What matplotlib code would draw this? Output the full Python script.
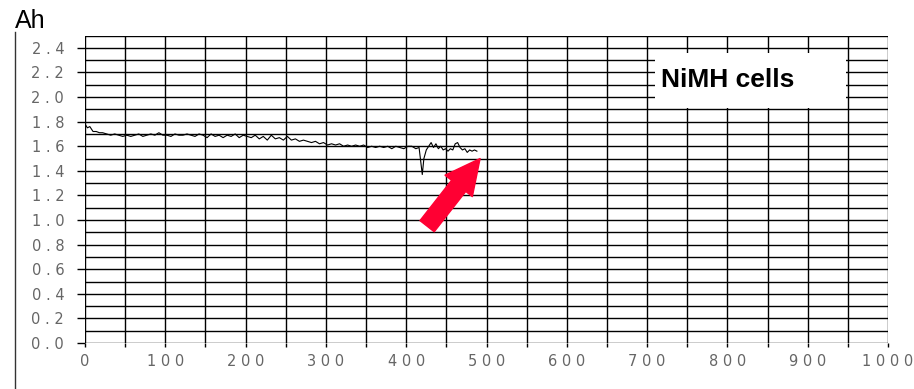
import numpy as np
import matplotlib
matplotlib.use("Agg")
import matplotlib.pyplot as plt
from matplotlib.patches import Rectangle
from matplotlib.lines import Line2D
from matplotlib.ticker import MultipleLocator

# capacity trace
cycles = [0, 3, 6, 10, 14, 18, 22, 27, 32, 37, 42, 47, 52, 57, 62, 67, 72, 77,
          82, 87, 92, 97, 102, 107, 112, 117, 122, 127, 132, 137, 142, 147, 152,
          157, 162, 167, 172, 177, 182, 187, 192, 197, 202, 207, 212, 217, 222,
          227, 232, 237, 242, 247, 252, 257, 262, 267, 272, 277, 282, 287, 292,
          297, 302, 307, 312, 317, 322, 327, 332, 337, 342, 347, 352, 357, 362,
          367, 372, 377, 382, 387, 392, 397, 402, 407, 412, 416, 418, 420, 422,
          425, 428, 431, 434, 437, 440, 443, 446, 449, 452, 455, 458, 461, 464,
          467, 470, 473, 476, 479, 482, 485, 488]
capacity = [1.78, 1.75, 1.76, 1.72, 1.72, 1.71, 1.71, 1.70, 1.69, 1.70, 1.69,
            1.68, 1.69, 1.68, 1.69, 1.70, 1.68, 1.69, 1.70, 1.69, 1.71, 1.69,
            1.69, 1.68, 1.70, 1.69, 1.69, 1.70, 1.69, 1.68, 1.70, 1.69, 1.67,
            1.70, 1.68, 1.69, 1.67, 1.69, 1.68, 1.70, 1.67, 1.69, 1.68, 1.67,
            1.69, 1.66, 1.68, 1.65, 1.69, 1.66, 1.67, 1.65, 1.68, 1.65, 1.66,
            1.64, 1.65, 1.64, 1.63, 1.64, 1.62, 1.63, 1.61, 1.62, 1.61, 1.62,
            1.60, 1.61, 1.60, 1.61, 1.60, 1.61, 1.59, 1.60, 1.59, 1.60, 1.59,
            1.60, 1.58, 1.60, 1.59, 1.58, 1.60, 1.60, 1.58, 1.59, 1.48, 1.37,
            1.50, 1.57, 1.60, 1.63, 1.59, 1.62, 1.58, 1.60, 1.57, 1.58, 1.56,
            1.58, 1.57, 1.62, 1.63, 1.59, 1.57, 1.58, 1.55, 1.57, 1.56, 1.57,
            1.56]

x_ticks = [0, 100, 200, 300, 400, 500, 600, 700, 800, 900, 1000]
x_tick_labels = ["0", "1 0 0", "2 0 0", "3 0 0", "4 0 0", "5 0 0", "6 0 0",
                 "7 0 0", "8 0 0", "9 0 0", "1 0 0 0"]
y_ticks = [0.0, 0.2, 0.4, 0.6, 0.8, 1.0, 1.2, 1.4, 1.6, 1.8, 2.0, 2.2, 2.4]
y_tick_labels = ["0 . 0", "0 . 2", "0 . 4", "0 . 6", "0 . 8", "1 . 0", "1 . 2",
                 "1 . 4", "1 . 6", "1 . 8", "2 . 0", "2 . 2", "2 . 4"]

fig = plt.figure(figsize=(9.14, 3.89), dpi=100)
ax = fig.add_axes([0.093, 0.1183, 0.8786, 0.7902])

ax.plot(cycles, capacity, color="black", lw=0.8, zorder=3)

ax.set_xlim(0, 1000)
ax.set_ylim(0, 2.5)
ax.set_xticks(x_ticks)
ax.set_xticklabels(x_tick_labels)
ax.set_yticks(y_ticks)
ax.set_yticklabels(y_tick_labels)
ax.xaxis.set_minor_locator(MultipleLocator(50))
ax.yaxis.set_minor_locator(MultipleLocator(0.1))

ax.set_axisbelow(True)
ax.grid(True, which="both", color="black", lw=1.0)
for s in ax.spines.values():
    s.set_visible(False)

ax.tick_params(axis="x", which="both", direction="out", length=3, width=1,
               pad=5, labelsize=10.5, labelcolor="#666666")
ax.tick_params(axis="y", which="major", direction="out", length=6, width=1,
               pad=9, labelsize=10.5, labelcolor="#666666")
ax.tick_params(axis="y", which="minor", length=0)
for lab in ax.get_xticklabels() + ax.get_yticklabels():
    lab.set_family("DejaVu Sans")

# white label box over the grid
ax.add_patch(Rectangle((710, 1.91), 238, 0.45, facecolor="white",
                       edgecolor="none", zorder=2))
ax.text(717, 2.14, "NiMH cells", fontsize=19, fontweight="bold",
        family="Liberation Sans", va="center", ha="left", zorder=4)

# red arrow pointing at the end of the trace
ax.annotate("", xy=(492, 1.50), xytext=(426, 0.95),
            arrowprops=dict(arrowstyle="simple,head_length=1.25,head_width=1.25,tail_width=0.65",
                            color="#ff0033", shrinkA=0, shrinkB=0,
                            mutation_scale=20),
            zorder=5)

fig.text(15 / 914, 1 - 28 / 389, "Ah", fontsize=18, family="Liberation Sans",
         ha="left", va="baseline")
fig.add_artist(Line2D([15 / 914, 15 / 914], [0, 1 - 32 / 389], color="#333333",
                      lw=1))

fig.savefig("out.png", dpi=100)
